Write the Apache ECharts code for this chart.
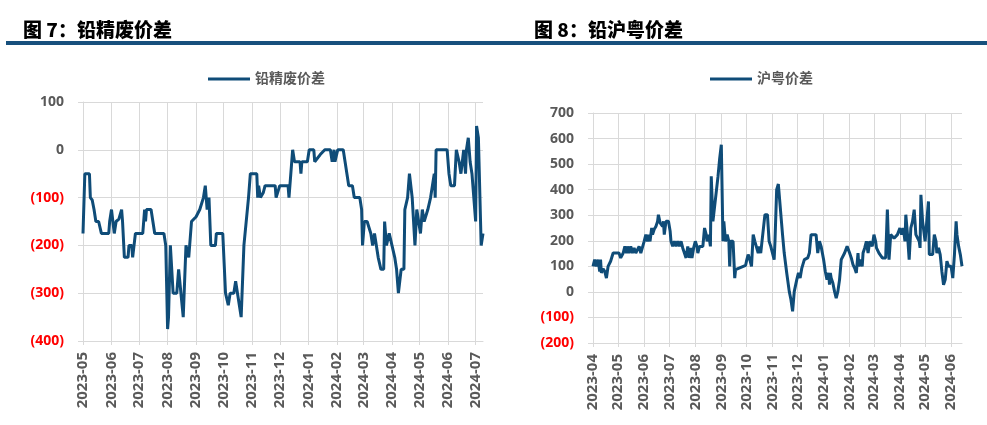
<!DOCTYPE html>
<html>
<head>
<meta charset="utf-8">
<script src="https://cdn.jsdelivr.net/npm/echarts@6/dist/echarts.min.js"></script>
<style>
html,body{margin:0;padding:0;background:#fff;}
#c{width:987px;height:425px;}
</style>
</head>
<body>
<div id="c"></div>
<script>
// ---------- data ----------
const titleLeft = '图 7：铅精废价差';
const titleRight = '图 8：铅沪粤价差';
const seriesNameLeft = '铅精废价差';
const seriesNameRight = '沪粤价差';

const leftStart = '2023-05-01';
const leftEnd = '2024-07-09';
const rightStart = '2023-04-01';
const rightEnd = '2024-06-14';

const leftYTicks = [-400, -300, -200, -100, 0, 100];
const rightYTicks = [-200, -100, 0, 100, 200, 300, 400, 500, 600, 700];

const leftDates = [
'2023-05-01','2023-05-03','2023-05-08','2023-05-09','2023-05-11','2023-05-13','2023-05-15','2023-05-18','2023-05-21','2023-05-29',
'2023-05-30','2023-06-01','2023-06-04','2023-06-06','2023-06-09','2023-06-12','2023-06-13','2023-06-15','2023-06-19','2023-06-20',
'2023-06-23','2023-06-24','2023-06-27','2023-07-05','2023-07-07','2023-07-08','2023-07-09','2023-07-14','2023-07-16','2023-07-18',
'2023-07-28','2023-07-30','2023-08-01','2023-08-02','2023-08-04','2023-08-07','2023-08-11','2023-08-13','2023-08-15','2023-08-18',
'2023-08-21','2023-08-24','2023-08-27','2023-09-01','2023-09-05','2023-09-09','2023-09-11','2023-09-13','2023-09-15','2023-09-17',
'2023-09-22','2023-09-23','2023-09-30','2023-10-03','2023-10-06','2023-10-08','2023-10-12','2023-10-14','2023-10-16','2023-10-20',
'2023-10-23','2023-10-28','2023-10-30','2023-11-06','2023-11-07','2023-11-08','2023-11-10','2023-11-13','2023-11-15','2023-11-26',
'2023-11-27','2023-12-01','2023-12-10','2023-12-11','2023-12-15','2023-12-17','2023-12-23','2023-12-24','2023-12-25','2023-12-31',
'2024-01-02','2024-01-07','2024-01-08','2024-01-14','2024-01-19','2024-01-25','2024-01-27','2024-01-29','2024-01-30','2024-02-02',
'2024-02-08','2024-02-10','2024-02-12','2024-02-14','2024-02-18','2024-02-20','2024-02-26','2024-02-28','2024-02-29','2024-03-02',
'2024-03-05','2024-03-09','2024-03-11','2024-03-13','2024-03-17','2024-03-20','2024-03-23','2024-03-24','2024-03-26','2024-03-29',
'2024-04-01','2024-04-04','2024-04-06','2024-04-08','2024-04-11','2024-04-14','2024-04-15','2024-04-18','2024-04-20','2024-04-23',
'2024-04-26','2024-04-28','2024-05-02','2024-05-04','2024-05-06','2024-05-10','2024-05-13','2024-05-17','2024-05-18','2024-05-19',
'2024-05-31','2024-06-02','2024-06-04','2024-06-08','2024-06-10','2024-06-13','2024-06-15','2024-06-18','2024-06-20','2024-06-21',
'2024-06-23','2024-06-25','2024-06-27','2024-07-01','2024-07-02','2024-07-04','2024-07-07','2024-07-09'
];
const leftValues = [
-175,-50,-50,-100,-105,-125,-150,-150,-175,-175,
-150,-125,-175,-150,-145,-125,-150,-225,-225,-200,
-200,-225,-175,-175,-125,-150,-125,-125,-150,-175,
-175,-200,-375,-350,-200,-300,-300,-250,-250,-350,
-200,-225,-150,-140,-125,-100,-75,-125,-100,-200,
-200,-175,-175,-300,-325,-300,-300,-275,-300,-350,
-200,-100,-50,-50,-100,-75,-100,-90,-75,-75,
-100,-75,-75,-100,0,-25,-25,-50,-25,-25,
0,0,-25,-10,0,0,-25,0,-25,0,
0,-25,-50,-75,-75,-100,-100,-125,-200,-150,
-150,-175,-200,-175,-225,-250,-250,-150,-200,-175,
-200,-225,-250,-300,-250,-250,-125,-100,-50,-100,
-200,-125,-175,-125,-150,-125,-100,-50,-100,0,
0,-50,-75,-75,0,-25,-50,0,-50,0,
25,-25,-50,-150,50,25,-200,-175
];

const rightDates = [
'2023-04-01','2023-04-03','2023-04-05','2023-04-07','2023-04-09','2023-04-10','2023-04-11','2023-04-13','2023-04-15','2023-04-17',
'2023-04-19','2023-04-22','2023-04-25','2023-05-02','2023-05-04','2023-05-07','2023-05-09','2023-05-11','2023-05-12','2023-05-14',
'2023-05-16','2023-05-18','2023-05-20','2023-05-22','2023-05-26','2023-05-28','2023-05-30','2023-06-01','2023-06-03','2023-06-05',
'2023-06-06','2023-06-08','2023-06-10','2023-06-11','2023-06-13','2023-06-15','2023-06-17','2023-06-18','2023-06-20','2023-06-21',
'2023-06-23','2023-06-24','2023-06-25','2023-06-27','2023-06-30','2023-07-02','2023-07-03','2023-07-05','2023-07-07','2023-07-09',
'2023-07-11','2023-07-13','2023-07-15','2023-07-17','2023-07-19','2023-07-21','2023-07-23','2023-07-25','2023-07-27','2023-07-28',
'2023-07-30','2023-08-01','2023-08-03','2023-08-04','2023-08-06','2023-08-10','2023-08-12','2023-08-14','2023-08-15','2023-08-17',
'2023-08-19','2023-08-20','2023-08-22','2023-08-24','2023-08-28','2023-08-30','2023-09-01','2023-09-03','2023-09-04','2023-09-06',
'2023-09-08','2023-09-10','2023-09-11','2023-09-12','2023-09-15','2023-09-17','2023-09-18','2023-09-30','2023-10-01','2023-10-03',
'2023-10-05','2023-10-07','2023-10-09','2023-10-11','2023-10-13','2023-10-15','2023-10-16','2023-10-18','2023-10-20','2023-10-23',
'2023-10-26','2023-10-28','2023-10-30','2023-11-01','2023-11-03','2023-11-04','2023-11-06','2023-11-08','2023-11-10','2023-11-13',
'2023-11-15','2023-11-18','2023-11-21','2023-11-23','2023-11-25','2023-11-27','2023-11-30','2023-12-02','2023-12-04','2023-12-06',
'2023-12-09','2023-12-13','2023-12-15','2023-12-17','2023-12-23','2023-12-25','2023-12-27','2023-12-29','2024-01-01','2024-01-03',
'2024-01-05','2024-01-07','2024-01-08','2024-01-09','2024-01-10','2024-01-12','2024-01-14','2024-01-16','2024-01-18','2024-01-20',
'2024-01-22','2024-01-24','2024-01-26','2024-01-29','2024-02-01','2024-02-03','2024-02-05','2024-02-07','2024-02-09','2024-02-11',
'2024-02-12','2024-02-14','2024-02-16','2024-02-17','2024-02-19','2024-02-21','2024-02-23','2024-02-25','2024-02-28','2024-03-01',
'2024-03-03','2024-03-04','2024-03-07','2024-03-09','2024-03-11','2024-03-13','2024-03-15','2024-03-17','2024-03-18','2024-03-19',
'2024-03-21','2024-03-23','2024-03-25','2024-03-27','2024-03-29','2024-03-30','2024-04-01','2024-04-03','2024-04-05','2024-04-07',
'2024-04-08','2024-04-10','2024-04-12','2024-04-14','2024-04-16','2024-04-18','2024-04-20','2024-04-22','2024-04-24','2024-04-25',
'2024-04-26','2024-04-28','2024-05-01','2024-05-03','2024-05-05','2024-05-06','2024-05-08','2024-05-10','2024-05-12','2024-05-14',
'2024-05-15','2024-05-17','2024-05-19','2024-05-21','2024-05-23','2024-05-25','2024-05-27','2024-05-29','2024-06-01','2024-06-03',
'2024-06-04','2024-06-05','2024-06-06','2024-06-07','2024-06-08','2024-06-10','2024-06-12','2024-06-14'
];
const rightValues = [
100,126,100,126,80,126,74,90,80,54,
100,120,152,152,133,152,178,152,178,152,
178,152,172,152,178,152,152,198,224,198,
224,198,250,224,245,256,276,302,270,276,
256,276,224,276,276,237,198,178,198,178,
198,178,198,172,172,133,178,133,172,133,
172,198,178,152,178,178,250,224,198,224,
178,452,276,276,450,520,576,198,276,198,
224,198,100,198,198,54,87,104,120,146,
126,100,224,198,198,152,178,152,152,302,
302,198,178,172,126,198,400,422,426,224,
152,74,2,-30,-76,2,48,74,54,93,
126,133,152,224,224,152,198,178,126,80,
48,74,28,74,54,35,2,-24,2,48,
126,126,152,178,152,133,107,93,74,152,
100,126,100,152,172,198,152,198,178,224,
198,172,152,146,133,126,133,322,322,126,
224,224,210,210,224,224,250,224,250,198,
302,224,126,250,276,322,224,224,198,172,
380,276,198,198,354,146,146,146,224,198,
152,172,146,80,28,48,120,100,100,54,
100,146,146,276,224,178,146,100
];

// ---------- helpers ----------
function dayRange(start, end) {
  const out = [];
  let t = Date.UTC(+start.slice(0,4), +start.slice(5,7)-1, +start.slice(8,10));
  const e = Date.UTC(+end.slice(0,4), +end.slice(5,7)-1, +end.slice(8,10));
  while (t <= e) {
    const d = new Date(t);
    out.push(d.getUTCFullYear() + '-' + String(d.getUTCMonth()+1).padStart(2,'0') + '-' + String(d.getUTCDate()).padStart(2,'0'));
    t += 86400000;
  }
  return out;
}
function fillSeries(cats, dates, values) {
  const m = {};
  dates.forEach((d, i) => { m[d] = values[i]; });
  return cats.map(c => (c in m ? m[c] : null));
}

const leftCats = dayRange(leftStart, leftEnd);
const rightCats = dayRange(rightStart, rightEnd);

const FONT = '"Open Sans", "Noto Sans CJK SC", sans-serif';
const GRID_COLOR = '#D9D9D9';
const LINE_COLOR = '#0F4C78';
const monthStart = (idx, val) => val.slice(8) === '01';

function xAxisCfg(gridIndex, cats) {
  return {
    type: 'category', gridIndex, data: cats, boundaryGap: false,
    axisLine: { show: true, onZero: false, lineStyle: { color: GRID_COLOR, width: 1 } },
    axisTick: { show: true, interval: monthStart, length: 4, lineStyle: { color: GRID_COLOR } },
    splitLine: { show: true, interval: monthStart, lineStyle: { color: GRID_COLOR, width: 1 } },
    axisLabel: {
      interval: monthStart, rotate: 90, margin: 11,
      formatter: v => v.slice(0, 7),
      color: '#595959', fontSize: 15, fontWeight: 'bold', fontFamily: FONT
    }
  };
}
function yAxisCfg(gridIndex, ticks) {
  return {
    type: 'value', gridIndex,
    min: ticks[0], max: ticks[ticks.length - 1], interval: ticks[1] - ticks[0],
    axisLine: { show: true, lineStyle: { color: GRID_COLOR } },
    axisTick: { show: true, length: 5, lineStyle: { color: GRID_COLOR } },
    splitLine: { show: true, lineStyle: { color: GRID_COLOR, width: 1 } },
    axisLabel: {
      margin: 19, fontSize: 14, fontWeight: 'bold', fontFamily: FONT,
      formatter: v => (v < 0 ? '(' + Math.abs(v) + ')' : String(v)),
      color: v => (v < 0 ? '#FF0000' : '#595959')
    }
  };
}

const chart = echarts.init(document.getElementById('c'), null, { renderer: 'canvas' });
chart.setOption({
  animation: false,
  backgroundColor: '#ffffff',
  title: [
    { text: titleLeft, left: 18, top: 15, textStyle: { fontSize: 19, fontWeight: 900, color: '#000', fontFamily: '"Noto Sans CJK SC", sans-serif' } },
    { text: titleRight, left: 529, top: 15, textStyle: { fontSize: 19, fontWeight: 900, color: '#000', fontFamily: '"Noto Sans CJK SC", sans-serif' } }
  ],
  graphic: [
    { type: 'rect', shape: { x: 6, y: 41, width: 981, height: 4 }, style: { fill: '#17507D' } }
  ],
  legend: [
    { data: [seriesNameLeft], left: 203, top: 67, icon: 'rect', itemWidth: 42, itemHeight: 3,
      textStyle: { fontSize: 14, fontWeight: 'bold', color: '#595959', fontFamily: FONT } },
    { data: [seriesNameRight], left: 705, top: 67, icon: 'rect', itemWidth: 42, itemHeight: 3,
      textStyle: { fontSize: 14, fontWeight: 'bold', color: '#595959', fontFamily: FONT } }
  ],
  grid: [
    { left: 83, right: 504, top: 102, bottom: 84 },
    { left: 593, right: 25, top: 113, bottom: 82 }
  ],
  xAxis: [xAxisCfg(0, leftCats), xAxisCfg(1, rightCats)],
  yAxis: [yAxisCfg(0, leftYTicks), yAxisCfg(1, rightYTicks)],
  series: [
    { name: seriesNameLeft, type: 'line', xAxisIndex: 0, yAxisIndex: 0,
      data: fillSeries(leftCats, leftDates, leftValues), connectNulls: true,
      showSymbol: false, symbol: 'none', lineStyle: { color: LINE_COLOR, width: 3 }, itemStyle: { color: LINE_COLOR } },
    { name: seriesNameRight, type: 'line', xAxisIndex: 1, yAxisIndex: 1,
      data: fillSeries(rightCats, rightDates, rightValues), connectNulls: true,
      showSymbol: false, symbol: 'none', lineStyle: { color: LINE_COLOR, width: 3 }, itemStyle: { color: LINE_COLOR } }
  ]
});
</script>
</body>
</html>
